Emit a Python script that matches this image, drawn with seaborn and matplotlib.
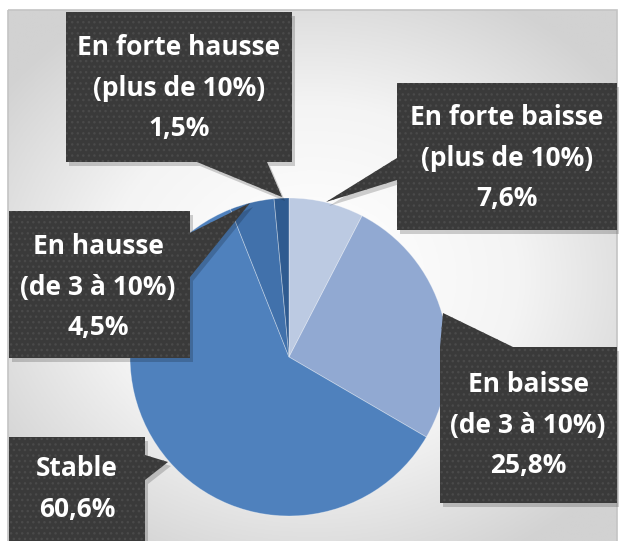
import numpy as np
import matplotlib
matplotlib.use("Agg")
import matplotlib.pyplot as plt
from matplotlib.patches import Polygon, Rectangle
from matplotlib.colors import LinearSegmentedColormap
import seaborn as sns

# Data (clockwise from 12 o'clock)
categories = ["En forte baisse\n(plus de 10%)", "En baisse\n(de 3 à 10%)", "Stable",
              "En hausse\n(de 3 à 10%)", "En forte hausse\n(plus de 10%)"]
shares = [7.6, 25.8, 60.6, 4.5, 1.5]
slice_colors = ["#bccae2", "#91a9d2", "#4f81bd", "#4171ab", "#2f5b90"]

sns.set_theme(style="white")
plt.rcParams["font.family"] = ["Open Sans", "DejaVu Sans"]

W, H = 619, 541
fig = plt.figure(figsize=(W / 100, H / 100), dpi=100)
fig.patch.set_facecolor("white")

# background frame with a soft gradient
bg = fig.add_axes([0, 0, 1, 1], zorder=0)
bg.set_xlim(0, W)
bg.set_ylim(H, 0)
bg.axis("off")
fx0, fx1, fy0, fy1 = 8, 617, 10, 545
gx, gy = np.meshgrid(np.linspace(-1, 1, 300), np.linspace(-1, 1, 300))
grad = np.clip(np.sqrt((gx * 0.95) ** 2 + (gy * 1.0) ** 2), 0, 1.2)
bg_cmap = LinearSegmentedColormap.from_list("bg", ["#ffffff", "#f4f4f4", "#d2d2d2"])
bg.imshow(grad, cmap=bg_cmap, vmin=0.1, vmax=1.2, extent=(fx0, fx1, fy1, fy0),
          aspect="auto", interpolation="bilinear")
bg.add_patch(Rectangle((fx0, fy0), fx1 - fx0, fy1 - fy0, fill=False,
                       edgecolor="#c4c4c4", lw=1.2))

# pie
cx, cy, r = 289, 357, 159
pie_ax = fig.add_axes([(cx - r) / W, (H - cy - r) / H, 2 * r / W, 2 * r / H], zorder=1)
pie_ax.pie(shares, colors=slice_colors, startangle=90, counterclock=False,
           wedgeprops=dict(edgecolor=(1, 1, 1, 0.35), linewidth=0.6))
pie_ax.set_xlim(-1, 1)
pie_ax.set_ylim(-1, 1)
pie_ax.set_aspect("auto")
pie_ax.axis("off")

# callouts
ov = fig.add_axes([0, 0, 1, 1], zorder=2)
ov.set_xlim(0, W)
ov.set_ylim(H, 0)
ov.axis("off")
ov.patch.set_alpha(0)

callouts = [
    # shape vertices (px), text centre, text
    ([(397, 83), (617, 83), (617, 230), (397, 230), (397, 180), (326, 202), (397, 158)],
     (507, 158), f"{categories[0]}\n{shares[0]:.1f}%"),
    ([(440, 347), (443, 313), (513, 347), (617, 347), (617, 503), (440, 503)],
     (528, 425), f"{categories[1]}\n{shares[1]:.1f}%"),
    ([(9, 437), (145, 437), (145, 455), (168, 462), (145, 480), (145, 545), (9, 545)],
     (77, 489), f"{categories[2]}\n{shares[2]:.1f}%"),
    ([(9, 211), (190, 211), (190, 233), (250, 203), (190, 277), (190, 358), (9, 358)],
     (98, 287), f"{categories[3]}\n{shares[3]:.1f}%"),
    ([(66, 12), (292, 12), (292, 162), (267, 162), (282, 197), (197, 162), (66, 162)],
     (179, 88), f"{categories[4]}\n{shares[4]:.1f}%"),
]

for verts, (tx, ty), txt in callouts:
    shadow = [(x + 3, y + 4) for x, y in verts]
    ov.add_patch(Polygon(shadow, closed=True, facecolor="#000000", alpha=0.18, lw=0))
    ov.add_patch(Polygon(verts, closed=True, facecolor="#3a3a3a", lw=0))
    ov.add_patch(Polygon(verts, closed=True, fill=False, hatch="...",
                         edgecolor="#4a4a4a", lw=0))
    ov.text(tx, ty, txt.replace(".", ","), ha="center", va="center", color="white",
            fontsize=19, fontweight="bold", linespacing=1.62, multialignment="center")

fig.savefig("out.png", dpi=100)
